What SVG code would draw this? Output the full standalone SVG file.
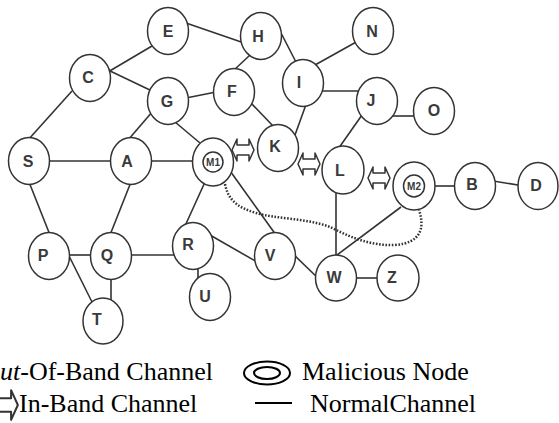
<svg xmlns="http://www.w3.org/2000/svg" width="559" height="423" viewBox="0 0 559 423">
<style>
.n ellipse{fill:#fff;stroke:#333;stroke-width:1.5}
.n text{font-family:"Liberation Sans",Arial,sans-serif;font-weight:bold;font-size:16px;fill:#3a3a3a;text-anchor:middle}
.n text.m{font-size:10px}
.e line{stroke:#333;stroke-width:1.6}
.ib{fill:#fff;stroke:#333;stroke-width:1.5;stroke-linejoin:round}
.oob{fill:none;stroke:#333;stroke-width:2.5;stroke-dasharray:1.6 1.6}
.lg{font-family:"Liberation Serif","Times New Roman",serif;font-size:26px;fill:#000}
</style>
<defs>
<path id="arr" d="M -11 0 L -6 -11 L -6 -5 L 6 -5 L 6 -11 L 11 0 L 6 11 L 6 5 L -6 5 L -6 11 Z"/>
</defs>
<g id="connectors" class="e">
<line x1="108" y1="72" x2="152" y2="46"/>
<line x1="108" y1="70" x2="152" y2="91"/>
<line x1="72" y1="91" x2="28" y2="140"/>
<line x1="186" y1="23" x2="247" y2="44"/>
<line x1="250" y1="55" x2="233" y2="71"/>
<line x1="186" y1="98" x2="216" y2="92"/>
<line x1="153" y1="111" x2="128" y2="140"/>
<line x1="175" y1="122" x2="200" y2="143"/>
<line x1="250" y1="102" x2="275" y2="128"/>
<line x1="280" y1="31" x2="297" y2="64"/>
<line x1="315" y1="65" x2="358" y2="41"/>
<line x1="318" y1="91" x2="364" y2="91"/>
<line x1="308" y1="99" x2="295" y2="135"/>
<line x1="392" y1="116" x2="416" y2="116"/>
<line x1="362" y1="115" x2="336" y2="152"/>
<line x1="48" y1="161" x2="113" y2="161"/>
<line x1="150" y1="161" x2="195" y2="161"/>
<line x1="29" y1="182" x2="50" y2="235"/>
<line x1="131" y1="182" x2="110" y2="235"/>
<line x1="205" y1="182" x2="185" y2="226"/>
<line x1="228" y1="168" x2="276" y2="235"/>
<line x1="67" y1="255" x2="94" y2="255"/>
<line x1="68" y1="254" x2="92" y2="302"/>
<line x1="111" y1="276" x2="111" y2="301"/>
<line x1="129" y1="255" x2="176" y2="255"/>
<line x1="210" y1="235" x2="257" y2="262"/>
<line x1="198" y1="266" x2="198" y2="279"/>
<line x1="292" y1="253" x2="320" y2="280"/>
<line x1="336" y1="188" x2="336" y2="258"/>
<line x1="401" y1="207" x2="333" y2="258"/>
<line x1="354" y1="278" x2="380" y2="278"/>
<line x1="432" y1="186" x2="458" y2="186"/>
<line x1="493" y1="181" x2="524" y2="186"/>
<path class="oob" d="M 225 184 C 228 199, 236 207, 256 213 C 276 219, 306 218, 330 227 C 350 237, 370 246, 395 245 C 421 243, 425 228, 419 210"/>
<use href="#arr" class="ib" x="243" y="150"/>
<use href="#arr" class="ib" x="309" y="164"/>
<use href="#arr" class="ib" x="379" y="178"/>
</g>
<g id="E" class="n"><ellipse cx="168" cy="31" rx="20.5" ry="23.5"/><text x="168" y="37">E</text></g>
<g id="H" class="n"><ellipse cx="261" cy="36" rx="20.5" ry="23.5"/><text x="258" y="42">H</text></g>
<g id="N" class="n"><ellipse cx="373" cy="31" rx="20.5" ry="23.5"/><text x="372" y="37">N</text></g>
<g id="C" class="n"><ellipse cx="90" cy="78" rx="20.5" ry="23.5"/><text x="88" y="83">C</text></g>
<g id="G" class="n"><ellipse cx="168" cy="101" rx="20.5" ry="23.5"/><text x="167" y="107">G</text></g>
<g id="F" class="n"><ellipse cx="234" cy="92" rx="20.5" ry="23.5"/><text x="232" y="97">F</text></g>
<g id="I" class="n"><ellipse cx="303" cy="83" rx="20.5" ry="23.5"/><text x="299" y="88">I</text></g>
<g id="J" class="n"><ellipse cx="377" cy="101" rx="20.5" ry="23.5"/><text x="371" y="106">J</text></g>
<g id="O" class="n"><ellipse cx="434" cy="111" rx="20.5" ry="23.5"/><text x="434" y="116">O</text></g>
<g id="K" class="n"><ellipse cx="278" cy="148" rx="20.5" ry="23.5"/><text x="275" y="152">K</text></g>
<g id="S" class="n"><ellipse cx="29" cy="161" rx="20.5" ry="23.5"/><text x="28" y="167">S</text></g>
<g id="A" class="n"><ellipse cx="131" cy="161" rx="20.5" ry="23.5"/><text x="127" y="167">A</text></g>
<g id="M1" class="n"><ellipse cx="213" cy="162" rx="20.5" ry="24"/><ellipse cx="213" cy="162" rx="10" ry="10"/><text class="m" x="213" y="166">M1</text></g>
<g id="L" class="n"><ellipse cx="343" cy="170" rx="21" ry="24"/><text x="340" y="176">L</text></g>
<g id="M2" class="n"><ellipse cx="414" cy="186" rx="21" ry="24"/><ellipse cx="414" cy="186" rx="10.5" ry="11"/><text class="m" x="414" y="190">M2</text></g>
<g id="B" class="n"><ellipse cx="475" cy="186" rx="20.5" ry="23.5"/><text x="472" y="190">B</text></g>
<g id="D" class="n"><ellipse cx="538" cy="186" rx="20" ry="23.5"/><text x="536" y="191">D</text></g>
<g id="P" class="n"><ellipse cx="49" cy="256" rx="20.5" ry="23.5"/><text x="43" y="261">P</text></g>
<g id="Q" class="n"><ellipse cx="111" cy="256" rx="20.5" ry="23.5"/><text x="107" y="261">Q</text></g>
<g id="R" class="n"><ellipse cx="193" cy="246" rx="20.5" ry="23.5"/><text x="188" y="250">R</text></g>
<g id="V" class="n"><ellipse cx="275" cy="256" rx="20.5" ry="23.5"/><text x="270" y="261">V</text></g>
<g id="T" class="n"><ellipse cx="103" cy="321" rx="20" ry="23"/><text x="97" y="325">T</text></g>
<g id="U" class="n"><ellipse cx="210" cy="297" rx="20.5" ry="23.5"/><text x="205" y="302">U</text></g>
<g id="W" class="n"><ellipse cx="336" cy="278" rx="20.5" ry="23"/><text x="334" y="283">W</text></g>
<g id="Z" class="n"><ellipse cx="398" cy="278" rx="21" ry="23"/><text x="392" y="283">Z</text></g>
<g id="legend">
<text class="lg" x="0" y="380"><tspan font-style="italic">ut</tspan>-Of-Band Channel</text>
<use href="#arr" class="ib" transform="translate(3,405) scale(1.35)"/>
<text class="lg" x="19" y="412">In-Band Channel</text>
<ellipse cx="267" cy="373" rx="23" ry="11.5" fill="none" stroke="#000" stroke-width="2"/>
<ellipse cx="267" cy="373" rx="13" ry="6" fill="none" stroke="#000" stroke-width="2"/>
<text class="lg" x="302" y="380">Malicious Node</text>
<line x1="255" y1="403" x2="292" y2="403" stroke="#000" stroke-width="2"/>
<text class="lg" x="310" y="412">NormalChannel</text>
</g>
</svg>
